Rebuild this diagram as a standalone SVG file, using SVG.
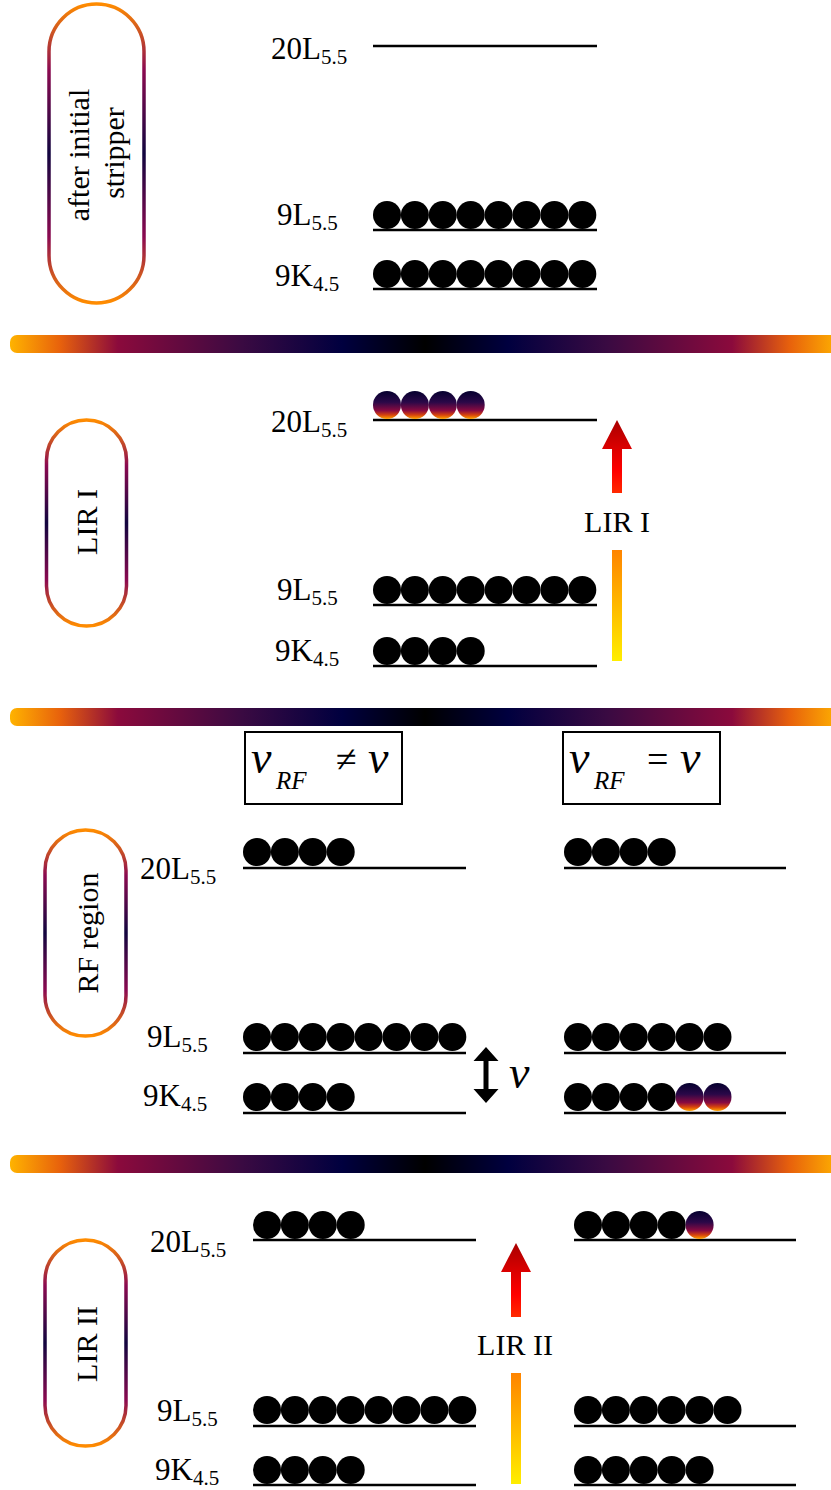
<svg xmlns="http://www.w3.org/2000/svg" xmlns:xlink="http://www.w3.org/1999/xlink" width="831" height="1490" viewBox="0 0 831 1490">
<defs>
<linearGradient id="pillG" x1="0" y1="0" x2="0" y2="1">
<stop offset="0" stop-color="#ff8c00"/>
<stop offset="0.22" stop-color="#8b0a50"/>
<stop offset="0.5" stop-color="#12053f"/>
<stop offset="0.78" stop-color="#8b0a50"/>
<stop offset="1" stop-color="#ff8c00"/>
</linearGradient>
<linearGradient id="barG" x1="0" y1="0" x2="1" y2="0">
<stop offset="0" stop-color="#ffb300"/>
<stop offset="0.06" stop-color="#e8620c"/>
<stop offset="0.13" stop-color="#8b0a3c"/>
<stop offset="0.28" stop-color="#3a0a42"/>
<stop offset="0.4" stop-color="#00003f"/>
<stop offset="0.5" stop-color="#000000"/>
<stop offset="0.6" stop-color="#00003f"/>
<stop offset="0.72" stop-color="#3a0a42"/>
<stop offset="0.87" stop-color="#8b0a3c"/>
<stop offset="0.94" stop-color="#e8620c"/>
<stop offset="1" stop-color="#ffb300"/>
</linearGradient>
<linearGradient id="dotG" x1="0" y1="0" x2="0" y2="1">
<stop offset="0" stop-color="#05002e"/>
<stop offset="0.4" stop-color="#2a0848"/>
<stop offset="0.7" stop-color="#8b0a40"/>
<stop offset="0.86" stop-color="#d8450c"/>
<stop offset="1" stop-color="#ffa800"/>
</linearGradient>
<linearGradient id="redG" x1="0" y1="0" x2="0" y2="1">
<stop offset="0" stop-color="#a80000"/>
<stop offset="0.4" stop-color="#dd0000"/>
<stop offset="0.7" stop-color="#ff0000"/>
<stop offset="1" stop-color="#ff2a00"/>
</linearGradient>
<linearGradient id="yelG" x1="0" y1="0" x2="0" y2="1">
<stop offset="0" stop-color="#ff8400"/>
<stop offset="1" stop-color="#ffee00"/>
</linearGradient>
<circle id="dot" cx="0" cy="0" r="14" fill="#000"/>
</defs>
<style>
.pill{fill:#fff;stroke:url(#pillG);stroke-width:3.5}
.bar{fill:url(#barG)}
.lvl{stroke:#000;stroke-width:2.6}
.lbl{font-family:"Liberation Serif",serif;font-size:31px;fill:#000}
.sub{font-size:21px}
.ptxt{font-family:"Liberation Serif",serif;font-size:30px;fill:#000;text-anchor:middle}
.gdot{fill:url(#dotG)}
.nu{font-family:"Liberation Serif",serif;font-style:italic;font-size:46px;fill:#000}
.rf{font-family:"Liberation Serif",serif;font-style:italic;font-size:25px;fill:#000}
.sym{font-family:"Liberation Serif",serif;font-size:38px;fill:#000}
.box{fill:none;stroke:#000;stroke-width:2}
</style>

<!-- separators -->
<g id="separators">
<rect class="bar" x="10" y="335" width="830" height="18" rx="7"/>
<rect class="bar" x="10" y="708" width="830" height="18" rx="7"/>
<rect class="bar" x="10" y="1155" width="830" height="18" rx="7"/>
</g>

<!-- Panel 1 -->
<g id="pill1">
<rect class="pill" x="49" y="4" width="95" height="299" rx="47.5"/>
<text class="ptxt" transform="translate(89,155) rotate(-90)">after initial</text>
<text class="ptxt" transform="translate(124,153) rotate(-90)">stripper</text>
</g>
<g id="p1-20L">
<text class="lbl" x="271" y="59">20L<tspan class="sub" dy="5">5.5</tspan></text>
<line class="lvl" x1="373" y1="46" x2="597" y2="46"/>
</g>
<g id="p1-9L">
<text class="lbl" x="277" y="225">9L<tspan class="sub" dy="5">5.5</tspan></text>
<line class="lvl" x1="373" y1="230" x2="597" y2="230"/>
<use href="#dot" x="387" y="215"/><use href="#dot" x="414.9" y="215"/><use href="#dot" x="442.8" y="215"/><use href="#dot" x="470.7" y="215"/><use href="#dot" x="498.6" y="215"/><use href="#dot" x="526.5" y="215"/><use href="#dot" x="554.4" y="215"/><use href="#dot" x="582.3" y="215"/>
</g>
<g id="p1-9K">
<text class="lbl" x="275" y="286">9K<tspan class="sub" dy="5">4.5</tspan></text>
<line class="lvl" x1="373" y1="289" x2="597" y2="289"/>
<use href="#dot" x="387" y="274"/><use href="#dot" x="414.9" y="274"/><use href="#dot" x="442.8" y="274"/><use href="#dot" x="470.7" y="274"/><use href="#dot" x="498.6" y="274"/><use href="#dot" x="526.5" y="274"/><use href="#dot" x="554.4" y="274"/><use href="#dot" x="582.3" y="274"/>
</g>

<!-- Panel 2 -->
<g id="pill2">
<rect class="pill" x="46.5" y="420" width="80" height="206" rx="40"/>
<text class="ptxt" transform="translate(97,522) rotate(-90)">LIR I</text>
</g>
<g id="p2-20L">
<text class="lbl" x="271" y="432">20L<tspan class="sub" dy="5">5.5</tspan></text>
<line class="lvl" x1="373" y1="420" x2="597" y2="420"/>
<circle class="gdot" cx="387" cy="405" r="14"/><circle class="gdot" cx="414.9" cy="405" r="14"/><circle class="gdot" cx="442.8" cy="405" r="14"/><circle class="gdot" cx="470.7" cy="405" r="14"/>
</g>
<g id="p2-9L">
<text class="lbl" x="277" y="600">9L<tspan class="sub" dy="5">5.5</tspan></text>
<line class="lvl" x1="373" y1="605" x2="597" y2="605"/>
<use href="#dot" x="387" y="590"/><use href="#dot" x="414.9" y="590"/><use href="#dot" x="442.8" y="590"/><use href="#dot" x="470.7" y="590"/><use href="#dot" x="498.6" y="590"/><use href="#dot" x="526.5" y="590"/><use href="#dot" x="554.4" y="590"/><use href="#dot" x="582.3" y="590"/>
</g>
<g id="p2-9K">
<text class="lbl" x="275" y="661">9K<tspan class="sub" dy="5">4.5</tspan></text>
<line class="lvl" x1="373" y1="666" x2="597" y2="666"/>
<use href="#dot" x="387" y="651"/><use href="#dot" x="414.9" y="651"/><use href="#dot" x="442.8" y="651"/><use href="#dot" x="470.7" y="651"/>
</g>

<!-- Panel 3 -->
<g id="pill3">
<rect class="pill" x="45" y="830" width="81" height="206" rx="40.5"/>
<text class="ptxt" transform="translate(98,933) rotate(-90)">RF region</text>
</g>
<g id="box-neq">
<rect class="box" x="245" y="732" width="157" height="72"/>
<text class="nu" x="251" y="773">ν</text>
<text class="rf" x="276" y="789">RF</text>
<text class="sym" x="336" y="772">≠</text>
<text class="nu" x="368" y="773">ν</text>
</g>
<g id="box-eq">
<rect class="box" x="563" y="732" width="157" height="72"/>
<text class="nu" x="569" y="773">ν</text>
<text class="rf" x="594" y="789">RF</text>
<text class="sym" x="647" y="772">=</text>
<text class="nu" x="680" y="773">ν</text>
</g>
<g id="p3-labels">
<text class="lbl" x="140" y="879">20L<tspan class="sub" dy="5">5.5</tspan></text>
<text class="lbl" x="147" y="1047">9L<tspan class="sub" dy="5">5.5</tspan></text>
<text class="lbl" x="143" y="1106">9K<tspan class="sub" dy="5">4.5</tspan></text>
</g>
<g id="p3-left">
<line class="lvl" x1="243" y1="868" x2="466" y2="868"/>
<use href="#dot" x="257" y="852"/><use href="#dot" x="284.9" y="852"/><use href="#dot" x="312.8" y="852"/><use href="#dot" x="340.7" y="852"/>
<line class="lvl" x1="243" y1="1053" x2="466" y2="1053"/>
<use href="#dot" x="257" y="1037"/><use href="#dot" x="284.9" y="1037"/><use href="#dot" x="312.8" y="1037"/><use href="#dot" x="340.7" y="1037"/><use href="#dot" x="368.6" y="1037"/><use href="#dot" x="396.5" y="1037"/><use href="#dot" x="424.4" y="1037"/><use href="#dot" x="452.3" y="1037"/>
<line class="lvl" x1="243" y1="1113" x2="466" y2="1113"/>
<use href="#dot" x="257" y="1097"/><use href="#dot" x="284.9" y="1097"/><use href="#dot" x="312.8" y="1097"/><use href="#dot" x="340.7" y="1097"/>
</g>
<g id="p3-right">
<line class="lvl" x1="564" y1="868" x2="786" y2="868"/>
<use href="#dot" x="578" y="852"/><use href="#dot" x="605.9" y="852"/><use href="#dot" x="633.8" y="852"/><use href="#dot" x="661.7" y="852"/>
<line class="lvl" x1="564" y1="1053" x2="786" y2="1053"/>
<use href="#dot" x="578" y="1037"/><use href="#dot" x="605.9" y="1037"/><use href="#dot" x="633.8" y="1037"/><use href="#dot" x="661.7" y="1037"/><use href="#dot" x="689.6" y="1037"/><use href="#dot" x="717.5" y="1037"/>
<line class="lvl" x1="564" y1="1113" x2="786" y2="1113"/>
<use href="#dot" x="578" y="1097"/><use href="#dot" x="605.9" y="1097"/><use href="#dot" x="633.8" y="1097"/><use href="#dot" x="661.7" y="1097"/>
<circle class="gdot" cx="689.6" cy="1097" r="14"/><circle class="gdot" cx="717.5" cy="1097" r="14"/>
</g>
<g id="nu-label">
<text class="nu" x="509" y="1088">ν</text>
</g>

<!-- Panel 4 -->
<g id="pill4">
<rect class="pill" x="45" y="1240" width="81" height="206" rx="40.5"/>
<text class="ptxt" transform="translate(97,1344) rotate(-90)">LIR II</text>
</g>
<g id="p4-labels">
<text class="lbl" x="150" y="1252">20L<tspan class="sub" dy="5">5.5</tspan></text>
<text class="lbl" x="157" y="1421">9L<tspan class="sub" dy="5">5.5</tspan></text>
<text class="lbl" x="155" y="1480">9K<tspan class="sub" dy="5">4.5</tspan></text>
</g>
<g id="p4-left">
<line class="lvl" x1="253" y1="1240" x2="476" y2="1240"/>
<use href="#dot" x="267" y="1225"/><use href="#dot" x="294.9" y="1225"/><use href="#dot" x="322.8" y="1225"/><use href="#dot" x="350.7" y="1225"/>
<line class="lvl" x1="253" y1="1426" x2="476" y2="1426"/>
<use href="#dot" x="267" y="1410"/><use href="#dot" x="294.9" y="1410"/><use href="#dot" x="322.8" y="1410"/><use href="#dot" x="350.7" y="1410"/><use href="#dot" x="378.6" y="1410"/><use href="#dot" x="406.5" y="1410"/><use href="#dot" x="434.4" y="1410"/><use href="#dot" x="462.3" y="1410"/>
<line class="lvl" x1="253" y1="1485" x2="476" y2="1485"/>
<use href="#dot" x="267" y="1470"/><use href="#dot" x="294.9" y="1470"/><use href="#dot" x="322.8" y="1470"/><use href="#dot" x="350.7" y="1470"/>
</g>
<g id="p4-right">
<line class="lvl" x1="574" y1="1240" x2="796" y2="1240"/>
<use href="#dot" x="588" y="1225"/><use href="#dot" x="615.9" y="1225"/><use href="#dot" x="643.8" y="1225"/><use href="#dot" x="671.7" y="1225"/>
<circle class="gdot" cx="699.6" cy="1225" r="14"/>
<line class="lvl" x1="574" y1="1426" x2="796" y2="1426"/>
<use href="#dot" x="588" y="1410"/><use href="#dot" x="615.9" y="1410"/><use href="#dot" x="643.8" y="1410"/><use href="#dot" x="671.7" y="1410"/><use href="#dot" x="699.6" y="1410"/><use href="#dot" x="727.5" y="1410"/>
<line class="lvl" x1="574" y1="1485" x2="796" y2="1485"/>
<use href="#dot" x="588" y="1470"/><use href="#dot" x="615.9" y="1470"/><use href="#dot" x="643.8" y="1470"/><use href="#dot" x="671.7" y="1470"/><use href="#dot" x="699.6" y="1470"/>
</g>

<!-- connectors -->
<g id="connectors">
<path d="M617,420 L632,449 L622,449 L622,493 L612,493 L612,449 L602,449 Z" fill="url(#redG)"/>
<rect x="612" y="550" width="10" height="111" fill="url(#yelG)"/>
<text class="ptxt" x="617" y="532">LIR I</text>
<path d="M516,1243 L531,1272 L521,1272 L521,1317 L511,1317 L511,1272 L501,1272 Z" fill="url(#redG)"/>
<rect x="511" y="1373" width="10" height="111" fill="url(#yelG)"/>
<text class="ptxt" x="515" y="1355">LIR II</text>
<path d="M486,1047 L498.5,1061 L488.5,1061 L488.5,1089 L498.5,1089 L486,1103 L473.5,1089 L483.5,1089 L483.5,1061 L473.5,1061 Z" fill="#000"/>
</g>
</svg>
